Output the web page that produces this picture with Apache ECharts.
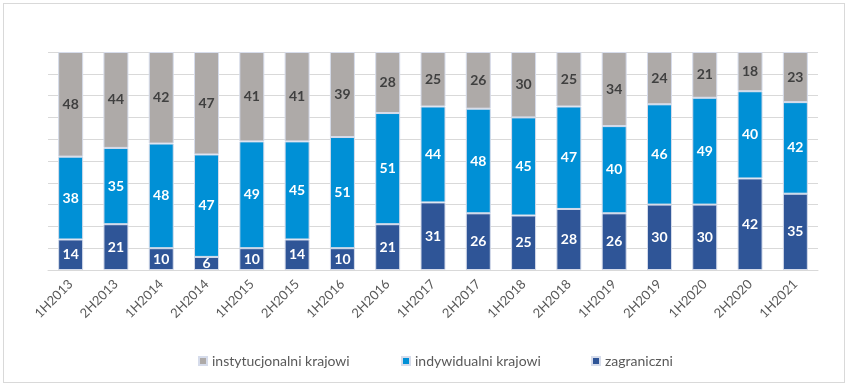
<!DOCTYPE html>
<html><head><meta charset="utf-8">
<script src="https://cdn.jsdelivr.net/npm/echarts@6/dist/echarts.min.js"></script>
<style>html,body{margin:0;padding:0;background:#fff}#c{width:851px;height:389px}
#frame{position:absolute;left:3px;top:3px;width:842px;height:380px;border:1px solid #d9d9d9;box-sizing:border-box;pointer-events:none}</style>
</head><body><div id="c"></div><div id="frame"></div>
<script>
const categories = ['1H2013','2H2013','1H2014','2H2014','1H2015','2H2015','1H2016','2H2016','1H2017','2H2017','1H2018','2H2018','1H2019','2H2019','1H2020','2H2020','1H2021'];
const zagraniczni = [14,21,10,6,10,14,10,21,31,26,25,28,26,30,30,42,35];
const indywidualni = [38,35,48,47,49,45,51,51,44,48,45,47,40,46,49,40,42];
const instytucjonalni = [48,44,42,47,41,41,39,28,25,26,30,25,34,24,21,18,23];
const seriesNames = ['instytucjonalni krajowi','indywidualni krajowi','zagraniczni'];

const font = 'Lato, "Liberation Sans", sans-serif';
function mk(name, data, color, labelColor) {
  return {
    name, type: 'bar', stack: 'total', data, barWidth: 25,
    itemStyle: { color, borderColor: '#d6dceb', borderWidth: 1 },
    label: { show: true, position: 'inside', color: labelColor, fontFamily: font, fontWeight: 'bold', fontSize: 14 }
  };
}
const legendLefts = [193, 396, 586];
const legends = seriesNames.map((n, i) => ({
  top: 349, left: legendLefts[i], itemWidth: 8, itemHeight: 8, icon: 'rect', data: [n],
  textStyle: { color: '#595959', fontFamily: font, fontSize: 14 }
}));
const chart = echarts.init(document.getElementById('c'));
chart.setOption({
  animation: false,
  grid: { left: 48, right: 33, top: 52, bottom: 119 },
  legend: legends,
  xAxis: {
    type: 'category', data: categories,
    axisLine: { lineStyle: { color: '#d9d9d9' } },
    axisTick: { show: false },
    axisLabel: { rotate: 45, color: '#595959', fontFamily: font, fontSize: 13, interval: 0, margin: 12 }
  },
  yAxis: {
    type: 'value', min: 0, max: 100, interval: 10,
    axisLabel: { show: false }, axisLine: { show: false }, axisTick: { show: false },
    splitLine: { lineStyle: { color: '#d9d9d9' } }
  },
  series: [
    mk(seriesNames[2], zagraniczni, '#2f5597', '#ffffff'),
    mk(seriesNames[1], indywidualni, '#0090d6', '#ffffff'),
    mk(seriesNames[0], instytucjonalni, '#aeaaa8', '#404040')
  ]
});
</script></body></html>
